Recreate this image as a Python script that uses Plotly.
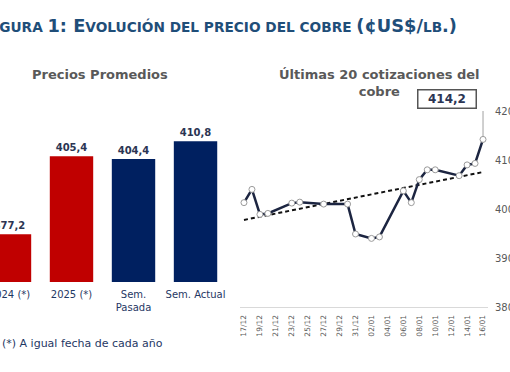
import numpy as np
import pandas as pd
import plotly.graph_objects as go

# ---------------- data ----------------
bar_categories = ["2024 (*)", "2025 (*)", "Sem.<br>Pasada", "Sem. Actual"]
bar_values = [377.2, 405.4, 404.4, 410.8]

quote_dates = [
    "2024-12-17", "2024-12-18", "2024-12-19", "2024-12-20", "2024-12-23",
    "2024-12-24", "2024-12-27", "2024-12-30", "2024-12-31", "2025-01-02",
    "2025-01-03", "2025-01-06", "2025-01-07", "2025-01-08", "2025-01-09",
    "2025-01-10", "2025-01-13", "2025-01-14", "2025-01-15", "2025-01-16",
]
quote_values = [
    401.3, 404.0, 398.9, 399.1, 401.2,
    401.4, 401.0, 401.0, 394.9, 394.0,
    394.3, 403.7, 401.3, 406.0, 408.0,
    408.0, 406.8, 409.0, 409.3, 414.2,
]
y2_ticks = [380, 390, 400, 410, 420]

title_text = ("<b><span style='font-size:17.8px'>F</span>IGURA "
              "<span style='font-size:17.8px'>1: E</span>VOLUCIÓN DEL PRECIO DEL COBRE "
              "<span style='font-size:17.8px'>(¢US$/</span>LB<span style='font-size:17.8px'>.)</span></b>")
left_title = "Precios Promedios"
right_title = "Últimas 20 cotizaciones del<br>cobre"
footnote = "(*) A igual fecha de cada año"

# ---------------- styles ----------------
W, H = 510, 372
RED = "#C00000"
NAVY = "#002060"
bar_colors = [RED, RED, NAVY, NAVY]
FONT = "DejaVu Sans"


def px_x(p):
    return p / W


def px_y(p):
    return 1 - p / H


def fmt(v):
    return f"{v:.1f}".replace(".", ",")


dates = pd.to_datetime(quote_dates)
days = (dates - dates[0]).days.values.astype(float)
coef = np.polyfit(days, np.array(quote_values), 1)
trend_x = [dates[0], dates[-1]]
trend_y = [np.polyval(coef, days[0]), np.polyval(coef, days[-1])]

fig = go.Figure()

fig.add_trace(go.Bar(
    x=bar_categories, y=bar_values,
    marker=dict(color=bar_colors, line=dict(width=0)),
    text=[f"<b>{fmt(v)}</b>" for v in bar_values], textposition="outside",
    textfont=dict(family=FONT, size=10, color="#2B3553"),
    cliponaxis=False, xaxis="x", yaxis="y", showlegend=False,
))

fig.add_trace(go.Scatter(
    x=trend_x, y=trend_y, mode="lines",
    line=dict(color="#111111", width=2, dash="4px,3px"),
    xaxis="x2", yaxis="y2", showlegend=False,
))

fig.add_trace(go.Scatter(
    x=dates, y=quote_values, mode="lines+markers",
    line=dict(color="#1C2541", width=2.5),
    marker=dict(symbol="circle", size=6, color="white",
                line=dict(color="#9A9A9A", width=1)),
    xaxis="x2", yaxis="y2", showlegend=False, cliponaxis=False,
))

# connector from last point to the value box
fig.add_shape(type="line", xref="x2", yref="y2",
              x0=dates[-1], x1=dates[-1], y0=quote_values[-1] + 0.5, y1=422.9,
              line=dict(color="#A0A0A0", width=1))

fig.update_layout(
    width=W, height=H,
    margin=dict(l=0, r=0, t=0, b=0, autoexpand=False),
    paper_bgcolor="white", plot_bgcolor="white",
    font=dict(family=FONT, color="#595959"),
    bargap=0.30,
    xaxis=dict(domain=[0, px_x(230)], range=[-0.153, 3.556], automargin=False,
               showline=False, showgrid=False, zeroline=False, ticks="",
               tickfont=dict(family=FONT, size=10, color="#1F3864"),
               ticklabelstandoff=5, ticklabeloverflow="allow", fixedrange=True),
    yaxis=dict(domain=[px_y(282), px_y(100)], range=[360, 425.7],
               visible=False, fixedrange=True, automargin=False),
    xaxis2=dict(domain=[px_x(240), px_x(488)], anchor="y2", type="date",
                range=["2024-12-16 12:00", "2025-01-16 15:00"], automargin=False,
                tick0="2024-12-17", dtick=2 * 86400000, tickformat="%d/%m",
                tickangle=-90, showgrid=False, zeroline=False,
                showline=True, linecolor="#D9D9D9", linewidth=1, ticks="",
                tickfont=dict(family=FONT, size=7.5, color="#595959"),
                ticklabelstandoff=4),
    yaxis2=dict(domain=[px_y(307), px_y(111)], anchor="x2", side="right",
                range=[380, 420], tickvals=y2_ticks, automargin=False,
                showgrid=False, zeroline=False, showline=False, ticks="",
                tickfont=dict(family=FONT, size=10, color="#595959"),
                ticklabelstandoff=6, ticklabeloverflow="allow"),
)

annotations = [
    dict(text=title_text, xref="paper", yref="paper", x=px_x(459), y=px_y(26),
         xanchor="right", yanchor="middle", showarrow=False,
         font=dict(family=FONT, size=13.7, color="#1F4E79")),
    dict(text=f"<b>{left_title}</b>", xref="paper", yref="paper",
         x=px_x(100), y=px_y(74), xanchor="center", yanchor="middle",
         showarrow=False, font=dict(family=FONT, size=13, color="#595959")),
    dict(text=f"<b>{right_title}</b>", xref="paper", yref="paper",
         x=px_x(379), y=px_y(83), xanchor="center", yanchor="middle",
         showarrow=False, font=dict(family=FONT, size=13, color="#595959")),
    dict(text=footnote, xref="paper", yref="paper", x=0, y=px_y(343),
         xanchor="left", yanchor="middle", showarrow=False,
         font=dict(family=FONT, size=11, color="#1F3864")),
    dict(text=f"<b>{fmt(quote_values[-1])}</b>", xref="paper", yref="paper",
         x=px_x(447), y=px_y(99), xanchor="center", yanchor="middle",
         showarrow=False, width=54, height=14, bgcolor="white",
         bordercolor="#555555", borderwidth=1.5, borderpad=1.5,
         font=dict(family=FONT, size=12, color="#2B3553")),
]
fig.update_layout(annotations=annotations)

fig.write_html("out.html", config={"displayModeBar": False},
               post_script="document.body.style.margin='0';")
